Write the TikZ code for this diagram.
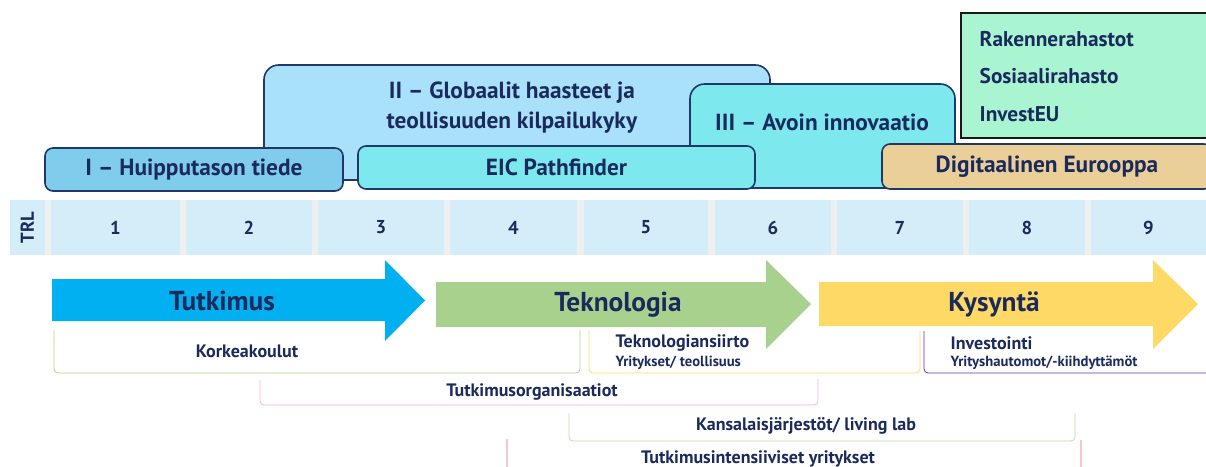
\documentclass[tikz,border=0pt]{standalone}
\usepackage{fontspec}
\setmainfont{PT Sans}
\usepackage{xcolor}

\definecolor{navytext}{HTML}{1B2A5C}
\definecolor{navyline}{HTML}{1F3864}
\definecolor{pillarone}{HTML}{7FCCEC}
\definecolor{pillartwo}{HTML}{A9E1FA}
\definecolor{pillarthree}{HTML}{7DE9EE}
\definecolor{digitaltan}{HTML}{EBCF98}
\definecolor{fundmint}{HTML}{A9F5D2}
\definecolor{trlblue}{HTML}{D3EEF9}
\definecolor{trlgap}{HTML}{EFEFEF}
\definecolor{tutkimusblue}{HTML}{00B0F0}
\definecolor{teknogreen}{HTML}{A9D18E}
\definecolor{kysyntayellow}{HTML}{FFD966}
\definecolor{investpurple}{HTML}{7030A0}
\definecolor{orgpink}{HTML}{F4AEEA}
\definecolor{kansagreen}{HTML}{B5DFA0}
\definecolor{intensred}{HTML}{E0607E}

\begin{document}
\begin{tikzpicture}[x=0.75pt,y=-0.75pt,
  every node/.style={text=navytext,font=\bfseries},
  pillar/.style={draw=navyline,line width=1.2pt,rounded corners=6pt,inner sep=0pt,font=\bfseries\fontsize{17.5}{20}\selectfont},
  trlcell/.style={fill=trlblue,inner sep=0pt,minimum height=41.25pt,font=\bfseries\fontsize{14}{16}\selectfont},
  bigarrow/.style={font=\bfseries\fontsize{20.5}{24}\selectfont},
  fund/.style={anchor=west,font=\bfseries\fontsize{16}{19}\selectfont},
  actor/.style={line width=0.6pt,rounded corners=3pt},
  actorlabel/.style={font=\bfseries\fontsize{13.5}{16}\selectfont},
  actorsmall/.style={font=\bfseries\fontsize{11}{13}\selectfont}]

\useasboundingbox (0,0) rectangle (1206,467);
\clip (0,0) rectangle (1206,467);

% pillars
\node[pillar,fill=pillartwo,rounded corners=11pt,minimum width=379.5pt,minimum height=86.25pt] (PillarII) at (517,122.5) {};
\node[align=center,font=\bfseries\fontsize{17.5}{22.5}\selectfont] (PillarIIText) at (512,108) {II – Globaalit haasteet ja\\teollisuuden kilpailukyky};
\node[pillar,fill=pillarone,minimum width=223.5pt,minimum height=32.25pt] (PillarI) at (194,169.5) {I – Huipputason tiede};
\node[pillar,fill=pillarthree,rounded corners=11pt,minimum width=198.75pt,minimum height=78pt] (PillarIII) at (822.5,136) {};
\node[font=\bfseries\fontsize{17.5}{20}\selectfont] (PillarIIIText) at (822,122) {III – Avoin innovaatio};
\node[pillar,fill=pillarthree,minimum width=297.75pt,minimum height=32.25pt] (Pathfinder) at (556.5,167.5) {EIC Pathfinder};
\node[pillar,fill=digitaltan,minimum width=247.5pt,minimum height=33.75pt] (Digital) at (1047,166.5) {Digitaalinen Eurooppa};

% funds
\node[draw=black!90,line width=1.5pt,fill=fundmint,minimum width=194.25pt,minimum height=93.75pt] (Funds) at (1090.5,75.5) {};
\node[fund] (FundA) at (975,39) {Rakennerahastot};
\node[fund] (FundB) at (975,76) {Sosiaalirahasto};
\node[fund] (FundC) at (975,114) {InvestEU};

% TRL
\fill[trlgap] (44.8,200) rectangle (1206,255);
\node[trlcell,minimum width=26.4pt] (CellTRL) at (27.2,227.5) {};
\node[rotate=90,font=\bfseries\fontsize{14}{16}\selectfont] (LabelTRL) at (CellTRL) {TRL};
\node[trlcell,minimum width=96.75pt] (Cell1) at (115.5,227.5) {1};
\node[trlcell,minimum width=94.5pt] (Cell2) at (249,227.5) {2};
\node[trlcell,minimum width=94.5pt] (Cell3) at (381,227.5) {3};
\node[trlcell,minimum width=95.25pt] (Cell4) at (513.5,227.5) {4};
\node[trlcell,minimum width=93pt] (Cell5) at (646,227.5) {5};
\node[trlcell,minimum width=87pt] (Cell6) at (773,227.5) {6};
\node[trlcell,minimum width=94.5pt] (Cell7) at (900,227.5) {7};
\node[trlcell,minimum width=87pt] (Cell8) at (1027,227.5) {8};
\node[trlcell,minimum width=86.25pt] (Cell9) at (1148.5,227.5) {9};

% stages
\fill[tutkimusblue] (52,279) -- (385,279) -- (385,260) -- (425,300.5) -- (385,341) -- (385,321) -- (52,321) -- cycle;
\node[bigarrow] (Tutkimus) at (222,301) {Tutkimus};
\fill[teknogreen] (436,282) -- (766,282) -- (766,260) -- (811,304) -- (766,349) -- (766,327) -- (436,327) -- cycle;
\node[bigarrow] (Teknologia) at (618,305) {Teknologia};
\fill[kysyntayellow] (819,282) -- (1153,282) -- (1153,260) -- (1198,304) -- (1153,349) -- (1153,326) -- (819,326) -- cycle;
\node[bigarrow] (Kysynta) at (994,304) {Kysyntä};

% actors
\draw[actor,draw=teknogreen] (54,330) -- (54,373) -- (580,373) -- (580,330);
\node[actorlabel] (Korkeakoulut) at (247,351) {Korkeakoulut};

\draw[actor,draw=kysyntayellow] (589,330) -- (589,373) -- (920,373) -- (920,331);
\node[actorlabel,anchor=west] (Siirto) at (611,343) {Teknologiansiirto};
\node[actorsmall,anchor=west] (Yritykset) at (611,363) {Yritykset/ teollisuus};

\draw[actor,draw=investpurple] (924,331) -- (924,373) -- (1212,373);
\node[actorlabel,anchor=west] (Investointi) at (946,343) {Investointi};
\node[actorsmall,anchor=west] (Hautomot) at (946,363) {Yrityshautomot/-kiihdyttämöt};

\draw[actor,draw=orgpink] (260,380) -- (260,405) -- (818,405) -- (818,379);
\node[actorlabel] (Organisaatiot) at (532,392) {Tutkimusorganisaatiot};

\draw[actor,draw=kansagreen] (569,413) -- (569,441) -- (1075,441) -- (1075,413);
\node[actorlabel] (Kansalais) at (806,426) {Kansalaisjärjestöt/ living lab};

\draw[actor,draw=intensred] (507,439) -- (507,490) -- (1081,490) -- (1081,440);
\node[actorlabel] (Intensiiviset) at (758,459) {Tutkimusintensiiviset yritykset};

\end{tikzpicture}
\end{document}
